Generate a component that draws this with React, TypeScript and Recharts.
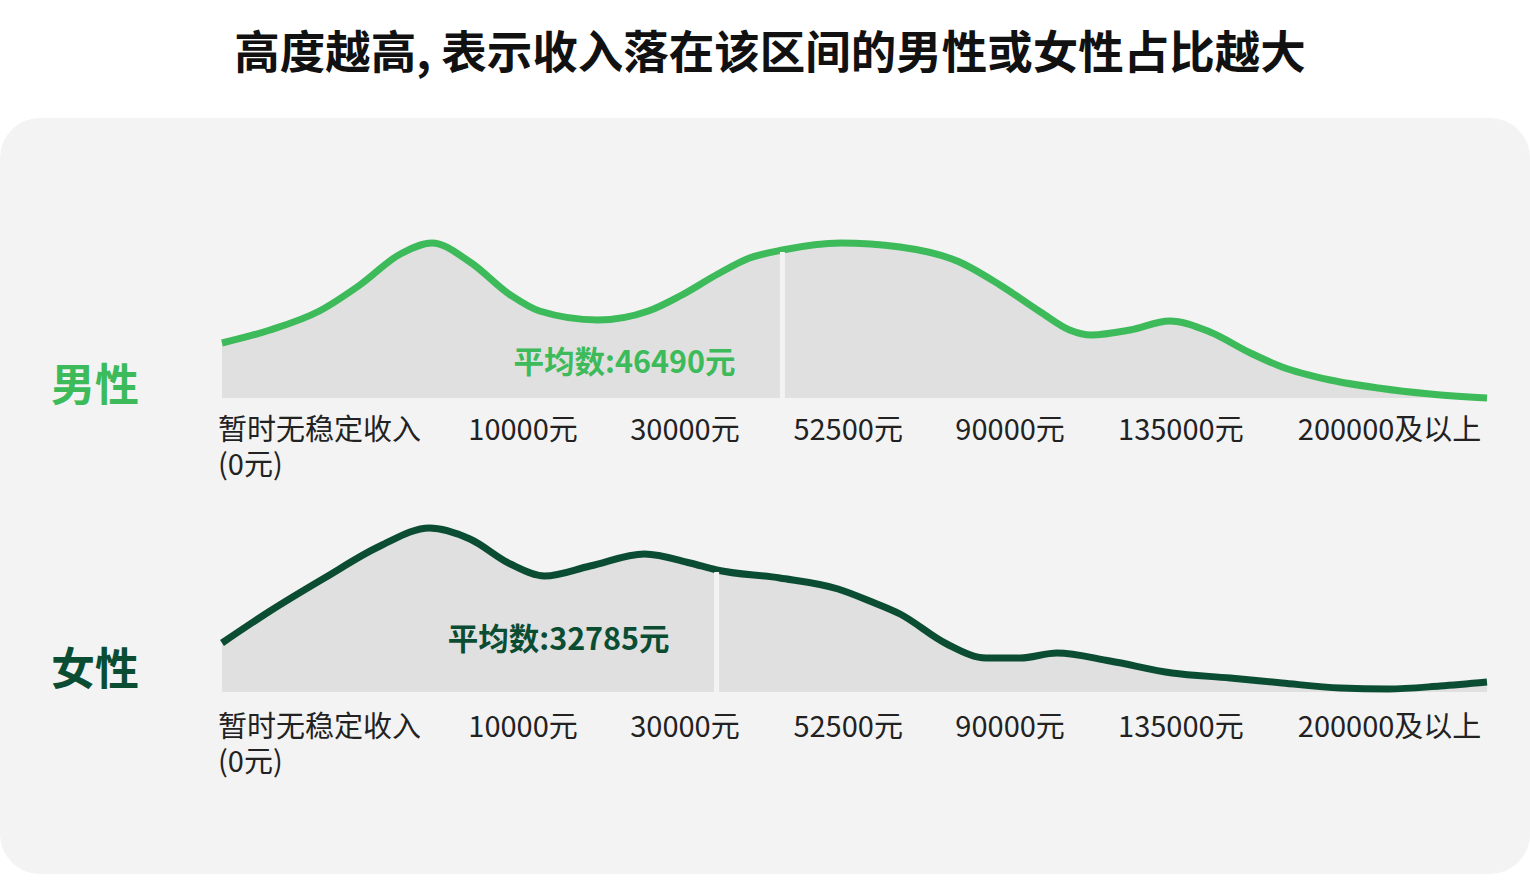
import { AreaChart, Area, XAxis, YAxis, ReferenceLine } from "recharts";

// x position along the income axis, 0 = left end, 100 = right end
const maleX = [0, 3.8, 7.7, 10.9, 14.1, 16.6, 19.6, 22.8, 25.1, 29.7, 33.7, 36.2, 39.2, 41.7, 44.3, 48.9, 53.6, 58.3, 61.5, 64.7, 67.0, 68.7, 71.8, 74.9, 78.1, 81.3, 83.8, 87.6, 91.4, 95.5, 100];
const maleShare = [55, 68, 87, 113, 144, 155, 136, 103, 87, 78, 87, 102, 124, 140, 148, 155, 151, 136, 113, 86, 68, 63, 68, 77, 66, 45, 31, 18, 10, 4, 0];

const femaleX = [0, 3.8, 8.1, 12.5, 16.4, 19.6, 22.8, 25.5, 29.1, 33.4, 37.0, 39.1, 44.1, 48.7, 51.2, 53.6, 57.3, 60.4, 63.1, 66.0, 70.2, 75.1, 79.7, 83.8, 88.4, 92.2, 96.3, 100];
const femaleShare = [49, 81, 114, 146, 164, 153, 128, 116, 126, 138, 129, 122, 114, 103, 91, 78, 48, 34, 34, 39, 31, 19, 14, 9, 4, 3, 6, 10];

const tickPos = [0, 23.8, 36.6, 49.5, 62.3, 75.8, 92.3];
const tickLabels = ["暂时无稳定收入|(0元)", "10000元", "30000元", "52500元", "90000元", "135000元", "200000及以上"];

const maleMean = { pos: 44.3, share: 146, label: "平均数:46490元" };
const femaleMean = { pos: 39.1, share: 120, label: "平均数:32785元" };

const FONT = "'Noto Sans CJK SC', 'Noto Sans', sans-serif";
const PANEL = "#f3f3f3";

const toRows = (xs: number[], ys: number[]) => xs.map((x, i) => ({ x, v: ys[i] }));

const IncomeTick = (props: any) => {
  const { x, y, payload, gap } = props;
  const idx = tickPos.indexOf(payload.value);
  const lines = (tickLabels[idx] ?? "").split("|");
  const first = idx === 0;
  const tx = first ? x - 4 : x;
  return (
    <g>
      {lines.map((l, i) => (
        <text
          key={i}
          x={tx}
          y={y + gap + i * 35}
          textAnchor={first ? "start" : "middle"}
          fill="#222"
          fontSize={29}
          fontFamily={FONT}
        >
          {l}
        </text>
      ))}
    </g>
  );
};

type Props = {
  xs: number[];
  ys: number[];
  color: string;
  mean: { pos: number; share: number; label: string };
  labelLift: number;
  tickGap: number;
};

const Density = ({ xs, ys, color, mean, labelLift, tickGap }: Props) => (
  <AreaChart
    width={1530}
    height={290}
    data={toRows(xs, ys)}
    margin={{ top: 18, right: 43, bottom: 0, left: 222 }}
  >
    <XAxis
      dataKey="x"
      type="number"
      domain={[0, 100]}
      ticks={tickPos}
      tick={<IncomeTick gap={tickGap} />}
      axisLine={false}
      tickLine={false}
      height={92}
      interval={0}
    />
    <YAxis hide domain={[0, 180]} />
    <Area
      type="monotone"
      dataKey="v"
      stroke={color}
      strokeWidth={7}
      fill="#e0e0e0"
      fillOpacity={1}
      isAnimationActive={false}
      dot={false}
      activeDot={false}
    />
    <ReferenceLine
      segment={[
        { x: mean.pos, y: 0 },
        { x: mean.pos, y: mean.share },
      ]}
      stroke={PANEL}
      strokeWidth={5}
      label={(p: any) => {
        const vb = p.viewBox;
        return (
          <text
            x={vb.x - 47}
            y={vb.y + vb.height - labelLift}
            textAnchor="end"
            dominantBaseline="central"
            fill={color}
            fontSize={30.5}
            fontWeight={700}
            fontFamily={FONT}
          >
            {mean.label}
          </text>
        );
      }}
    />
  </AreaChart>
);

export default function App() {
  return (
    <div
      style={{
        position: "absolute",
        left: 0,
        top: 0,
        width: 1530,
        height: 890,
        background: "#fff",
        fontFamily: FONT,
        overflow: "hidden",
      }}
    >
      <div
        style={{
          position: "absolute",
          left: 0,
          top: 19,
          width: 1540,
          textAlign: "center",
          fontSize: 45.5,
          fontWeight: 700,
          color: "#111",
          lineHeight: "60px",
        }}
      >
        高度越高, 表示收入落在该区间的男性或女性占比越大
      </div>
      <div
        style={{
          position: "absolute",
          left: 0,
          top: 118,
          width: 1530,
          height: 756,
          borderRadius: 40,
          background: PANEL,
        }}
      />
      <div
        style={{
          position: "absolute",
          left: 51,
          top: 353,
          fontSize: 44,
          fontWeight: 700,
          color: "#3dba5a",
          lineHeight: "58px",
        }}
      >
        男性
      </div>
      <div
        style={{
          position: "absolute",
          left: 51,
          top: 637,
          fontSize: 44,
          fontWeight: 700,
          color: "#0b4d33",
          lineHeight: "58px",
        }}
      >
        女性
      </div>
      <div style={{ position: "absolute", left: 0, top: 200 }}>
        <Density xs={maleX} ys={maleShare} color="#3dba5a" mean={maleMean} labelLift={38} tickGap={34} />
      </div>
      <div style={{ position: "absolute", left: 0, top: 494 }}>
        <Density xs={femaleX} ys={femaleShare} color="#0b4d33" mean={femaleMean} labelLift={55} tickGap={37} />
      </div>
    </div>
  );
}
